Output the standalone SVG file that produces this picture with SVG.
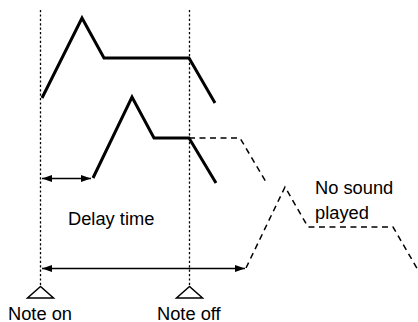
<svg xmlns="http://www.w3.org/2000/svg" width="418" height="322" viewBox="0 0 418 322">
<style>
.guide{stroke:#000;stroke-width:1.3;stroke-dasharray:2.2,2.2;fill:none}
.env{stroke:#000;stroke-width:3;fill:none;stroke-linejoin:miter}
.ghost{stroke:#000;stroke-width:1.5;fill:none;stroke-dasharray:6,4.5}
.dim{stroke:#000;stroke-width:1.3;fill:none}
.tri{stroke:#000;stroke-width:1.5;fill:#fff}
text{font-family:"Liberation Sans",Arial,sans-serif;font-size:18.3px;fill:#000}
</style>
<defs>
<marker id="ah" viewBox="0 0 10 7" refX="10" refY="3.5" markerWidth="10" markerHeight="7" markerUnits="userSpaceOnUse" orient="auto-start-reverse">
<path d="M0,0 L10,3.5 L0,7 Z" fill="#000"/>
</marker>
</defs>
<g id="guides">
<line class="guide" x1="40.5" y1="10" x2="40.5" y2="286"/>
<line class="guide" x1="189.5" y1="10" x2="189.5" y2="286"/>
</g>
<g id="envelope-upper">
<polyline class="env" points="42,98 82,18 104,58 189,58 215,103"/>
</g>
<g id="envelope-lower">
<polyline class="env" points="93,178 132,97 154,138 189,138 216,183"/>
</g>
<g id="envelope-unplayed">
<polyline class="ghost" points="189,138 240,138 266,182"/>
<polyline class="ghost" points="246,268 285,187 308,227 393,227 418,270"/>
</g>
<g id="connectors">
<line class="dim" x1="42" y1="178.5" x2="91" y2="178.5" marker-start="url(#ah)" marker-end="url(#ah)"/>
<line class="dim" x1="42" y1="268.5" x2="245" y2="268.5" marker-start="url(#ah)" marker-end="url(#ah)"/>
</g>
<g id="note-on">
<polygon class="tri" points="40.5,286.5 27.5,298 53.5,298"/>
<text x="8" y="320">Note on</text>
</g>
<g id="note-off">
<polygon class="tri" points="189.5,286.5 176.5,298 202.5,298"/>
<text x="157" y="320">Note off</text>
</g>
<g id="label-delay">
<text x="68" y="225">Delay time</text>
</g>
<g id="label-nosound">
<text x="315" y="194">No sound</text>
<text x="315" y="219">played</text>
</g>
</svg>
